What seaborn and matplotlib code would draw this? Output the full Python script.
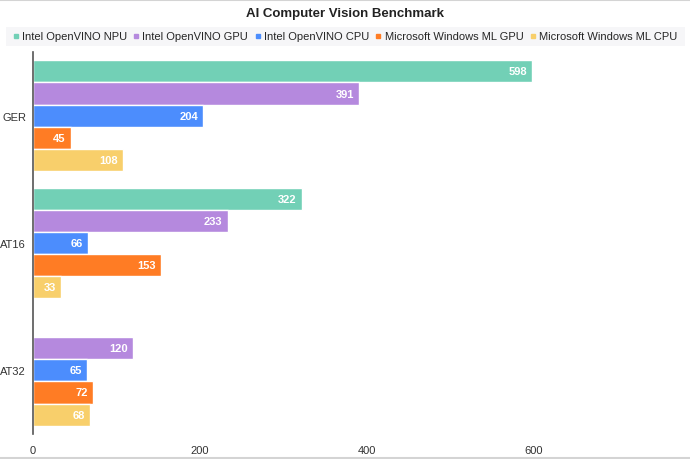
import matplotlib as mpl
import matplotlib.pyplot as plt
import numpy as np
import pandas as pd
import seaborn as sns

categories = ['GER', 'AT16', 'AT32']
series = ['Intel OpenVINO NPU', 'Intel OpenVINO GPU', 'Intel OpenVINO CPU',
          'Microsoft Windows ML GPU', 'Microsoft Windows ML CPU']
npu = [598, 322, np.nan]
gpu = [391, 233, 120]
cpu = [204, 66, 65]
win_gpu = [45, 153, 72]
win_cpu = [108, 33, 68]
colors = ['#72d0b6', '#b589de', '#4c8dfd', '#ff7c24', '#f8cf6b']

sns.set_theme(style='white')
plt.rcParams['font.family'] = ['Liberation Sans', 'DejaVu Sans']

rows = []
for name, vals in zip(series, [npu, gpu, cpu, win_gpu, win_cpu]):
    for cat, v in zip(categories, vals):
        rows.append({'category': cat, 'series': name, 'value': v})
df = pd.DataFrame(rows)

W, H = 690, 460
fig = plt.figure(figsize=(6.9, 4.6), dpi=100)
ax = fig.add_axes([33 / W, 1 - 435 / H, 1 - 33 / W, (435 - 53) / H])
sns.barplot(data=df, y='category', x='value', hue='series', hue_order=series,
            order=categories, palette=colors, orient='h', width=0.87,
            saturation=1, ax=ax, legend=False, linewidth=1, edgecolor='white')

xmax = 787
for cont in ax.containers:
    for bar in cont:
        w = bar.get_width()
        if np.isnan(w) or w == 0:
            continue
        ax.text(w - 5 * xmax / (W - 33), bar.get_y() + bar.get_height() / 2, f'{int(w)}',
                ha='right', va='center', color='white', fontsize=8, fontweight='bold')

ax.set_xlim(0, xmax)
ax.set_xticks([0, 200, 400, 600])
ax.set_xlabel('')
ax.set_ylabel('')
ax.tick_params(axis='x', labelsize=8, length=0, pad=8, colors='#333333')
ax.tick_params(axis='y', labelsize=8, length=0, pad=5, colors='#333333')
for s in ['top', 'right', 'bottom']:
    ax.spines[s].set_visible(False)
ax.spines['left'].set_color('#555555')
ax.spines['left'].set_linewidth(1.2)

fig.text(0.5, 1 - 14 / H, 'AI Computer Vision Benchmark', ha='center', va='center',
         fontsize=9.5, fontweight='bold', color='#222222')

# legend background band
fig.add_artist(mpl.patches.Rectangle((6 / W, 1 - 47 / H), 679 / W, 19 / H,
                                     transform=fig.transFigure, facecolor='#f6f6f8',
                                     edgecolor='none', zorder=0))
handles = [mpl.lines.Line2D([], [], marker='s', linestyle='', markersize=3.5,
                            color=c) for c in colors]
fig.legend(handles, series, loc='center', bbox_to_anchor=(0.5, 1 - 37.5 / H),
           ncol=5, frameon=False, fontsize=8, handletextpad=0.3,
           columnspacing=0.6, handlelength=0.5, borderpad=0.2)

# thin border lines of the original screenshot
for y in (1 - 0.5 / H, 1.5 / H):
    fig.add_artist(mpl.lines.Line2D([0, 1], [y, y], transform=fig.transFigure,
                                    color='#d4d4d4', linewidth=1.5))

fig.savefig('out.png', dpi=100)
